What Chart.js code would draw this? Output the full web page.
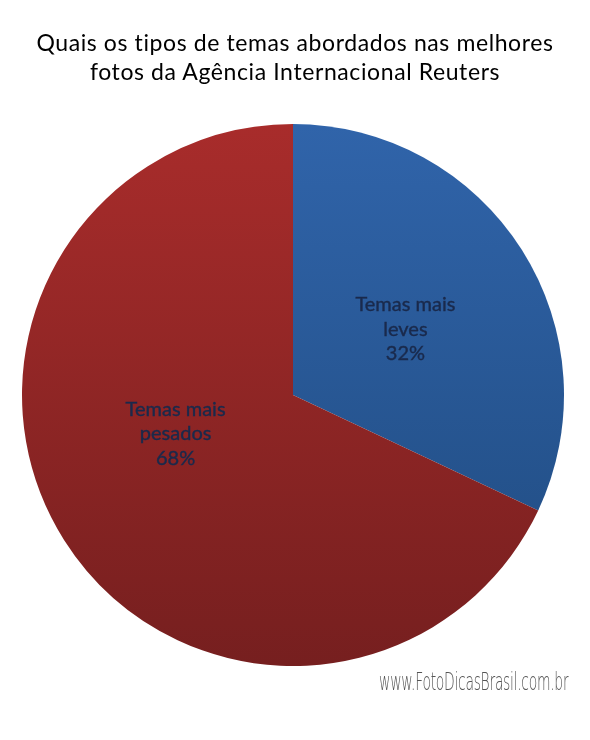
<!DOCTYPE html>
<html>
<head>
<meta charset="utf-8">
<script src="https://cdn.jsdelivr.net/npm/chart.js@4/dist/chart.umd.min.js"></script>
<style>
  html, body { margin: 0; padding: 0; background: #fff; }
  #wrap { position: relative; width: 590px; height: 740px; }
  #title {
    position: absolute; left: 0; top: 28px; width: 590px;
    text-align: center; font-family: Lato, sans-serif; font-size: 23px;
    line-height: 29px; color: #000; letter-spacing: 0.6px;
  }
  #mark {
    position: absolute; right: 22px; top: 668px;
    font-family: "DejaVu Sans", sans-serif; font-size: 24px; font-weight: 200;
    color: #555; letter-spacing: -0.5px; transform: scaleX(0.58); transform-origin: right;
  }
  canvas { position: absolute; left: 0; top: 0; }
</style>
</head>
<body>
<div id="wrap">
  <canvas id="pieChart" width="590" height="740"></canvas>
  <div id="title">Quais os tipos de temas abordados nas melhores<br>fotos da Agência Internacional Reuters</div>
  <div id="mark">www.FotoDicasBrasil.com.br</div>
</div>
<script>
// Data
const categories = ['Temas mais leves', 'Temas mais pesados'];
const labelLines = [['Temas mais', 'leves'], ['Temas mais', 'pesados']];
const shares = [32, 68];

// top / bottom gradient colours per slice
const gradTop = ['#3064aa', '#a82c2b'];
const gradBottom = ['#1f4a7e', '#761f1f'];

function sliceFill(context) {
  const chart = context.chart;
  const area = chart.chartArea;
  if (!area) return gradTop[context.dataIndex];
  const g = chart.ctx.createLinearGradient(0, area.top, 0, area.bottom);
  g.addColorStop(0, gradTop[context.dataIndex]);
  g.addColorStop(1, gradBottom[context.dataIndex]);
  return g;
}

// Draw the slice labels inside the pie
const sliceLabels = {
  id: 'sliceLabels',
  afterDatasetsDraw(chart, args, opts) {
    const ctx = chart.ctx;
    const meta = chart.getDatasetMeta(0);
    ctx.save();
    ctx.font = '20px Lato, sans-serif';
    ctx.fillStyle = '#1a2a4c';
    ctx.strokeStyle = '#1a2a4c';
    ctx.lineWidth = 0.4;
    ctx.textAlign = 'center';
    ctx.textBaseline = 'middle';
    meta.data.forEach((arc, i) => {
      const pos = arc.tooltipPosition();
      const nudge = opts.nudge[i] || [0, 0];
      const lines = labelLines[i].concat([shares[i] + '%']);
      const lh = 24.5;
      const y0 = pos.y + nudge[1] - (lines.length - 1) * lh / 2;
      lines.forEach((t, k) => {
        ctx.fillText(t, pos.x + nudge[0], y0 + k * lh);
        ctx.strokeText(t, pos.x + nudge[0], y0 + k * lh);
      });
    });
    ctx.restore();
  }
};

new Chart(document.getElementById('pieChart'), {
  type: 'pie',
  data: {
    labels: categories,
    datasets: [{
      data: shares,
      backgroundColor: sliceFill,
      borderWidth: 0
    }]
  },
  options: {
    responsive: false,
    animation: false,
    layout: { padding: { left: 22, right: 26, top: 124, bottom: 74 } },
    plugins: {
      legend: { display: false },
      tooltip: { enabled: false },
      sliceLabels: { nudge: [[-2, 7], [-3, -34]] }
    }
  },
  plugins: [sliceLabels]
});
</script>
</body>
</html>
